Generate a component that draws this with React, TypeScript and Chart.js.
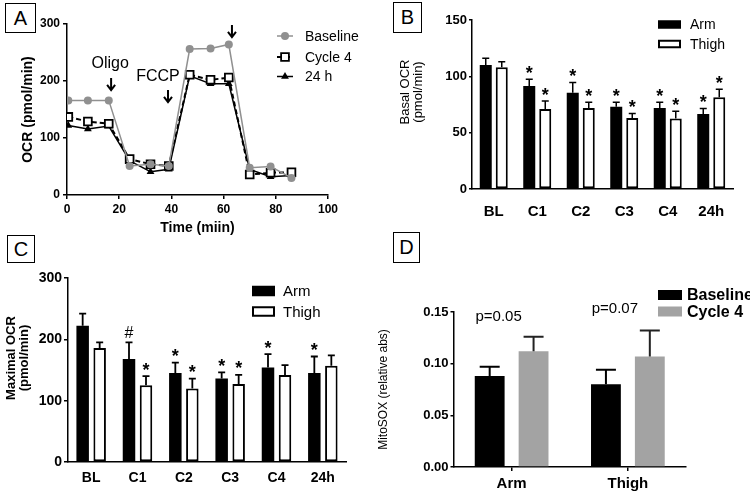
import React, { useEffect, useRef } from 'react';
import { Chart, registerables } from 'chart.js';
Chart.register(...registerables);

const FONT = 'Arial, "Liberation Sans", Helvetica, sans-serif';
Chart.defaults.font.family = FONT;
Chart.defaults.color = '#000';

// ---------- Panel A : OCR trace ----------
const timeMin = [0.5, 8, 16, 24, 32, 39, 47, 55, 62, 70, 78, 86];
const baselineOCR = [166, 166, 166, 51, 54, 51, 256, 257, 264, 48, 50, 30];
const cycle4OCR = [137, 129, 125, 63, 54, 51, 211, 202, 206, 36, 39, 40];
const h24OCR = [122, 116, 121, 60, 41, 45, 209, 195, 195, 45, 32, 34];
const seriesNamesA = ['Baseline', 'Cycle 4', '24 h'];
const injectionNames = ['Oligo', 'FCCP', ''];
const injectionTime = [16.9, 38.7, 63.2];
const injectionTipOCR = [184, 163, 277];
const timeTicks = [0, 20, 40, 60, 80, 100];
const ocrTicks = [0, 100, 200, 300];

// ---------- Panel B : Basal OCR ----------
const visitLabels = ['BL', 'C1', 'C2', 'C3', 'C4', '24h'];
const limbNames = ['Arm', 'Thigh'];
const basalArm = [110, 91.5, 85.5, 73, 72, 66.5];
const basalArmErr = [6, 6, 9, 4, 5, 5];
const basalThigh = [108, 71, 72, 63, 62.5, 81.5];
const basalThighErr = [5, 7, 5, 4, 6.5, 7];
const basalArmMarks = ['', '*', '*', '*', '*', '*'];
const basalThighMarks = ['', '*', '*', '*', '*', '*'];

// ---------- Panel C : Maximal OCR ----------
const maxArm = [222, 168, 145, 136, 154, 145];
const maxArmErr = [20, 27, 17, 10, 22, 27];
const maxThigh = [186, 125, 120, 127, 142, 157];
const maxThighErr = [9, 15, 16, 15, 16, 17];
const maxArmMarks = ['', '#', '*', '*', '*', '*'];
const maxThighMarks = ['', '*', '*', '*', '', ''];

// ---------- Panel D : MitoSOX ----------
const limbLabels = ['Arm', 'Thigh'];
const groupNamesD = ['Baseline', 'Cycle 4'];
const mitoBaseline = [0.088, 0.080];
const mitoBaselineErr = [0.009, 0.014];
const mitoCycle4 = [0.112, 0.107];
const mitoCycle4Err = [0.014, 0.025];
const pValueText = ['p=0.05', 'p=0.07'];
const pValueLevel = [0.1456, 0.1528];

// ---------- plugins ----------
const errorBarPlugin = {
  id: 'errorBars',
  afterDatasetsDraw(chart: any, _a: any, o: any) {
    const { ctx } = chart;
    const yScale = chart.scales.y;
    chart.data.datasets.forEach((ds: any, di: number) => {
      if (!ds.errors) return;
      const meta = chart.getDatasetMeta(di);
      meta.data.forEach((bar: any, i: number) => {
        const yTop = yScale.getPixelForValue(ds.data[i] + ds.errors[i]);
        const half = o.capWidth / 2;
        ctx.save();
        ctx.strokeStyle = ds.errorColor || '#000';
        ctx.lineWidth = o.lineWidth;
        ctx.beginPath();
        ctx.moveTo(bar.x, bar.y);
        ctx.lineTo(bar.x, yTop);
        ctx.moveTo(bar.x - half, yTop);
        ctx.lineTo(bar.x + half, yTop);
        ctx.stroke();
        const m = ds.marks ? ds.marks[i] : '';
        if (m) {
          ctx.fillStyle = '#000';
          ctx.textAlign = 'center';
          ctx.textBaseline = 'alphabetic';
          ctx.font = m === '#' ? `16px ${FONT}` : `bold 18px ${FONT}`;
          ctx.fillText(m, bar.x, yTop - (m === '#' ? 4 : 0.5));
        }
        ctx.restore();
      });
    });
  },
};

const boxLegendPlugin = {
  id: 'boxLegend',
  afterDraw(chart: any, _a: any, o: any) {
    const { ctx } = chart;
    chart.data.datasets.forEach((ds: any, i: number) => {
      const cy = o.rows[i];
      ctx.save();
      ctx.fillStyle = ds.backgroundColor;
      ctx.fillRect(o.x, cy - o.boxH / 2, o.boxW, o.boxH);
      if (ds.borderWidth) {
        const lw = ds.borderWidth;
        ctx.strokeStyle = ds.borderColor;
        ctx.lineWidth = lw;
        ctx.strokeRect(o.x + lw / 2, cy - o.boxH / 2 + lw / 2, o.boxW - lw, o.boxH - lw);
      }
      ctx.fillStyle = '#000';
      ctx.font = o.font;
      ctx.textAlign = 'left';
      ctx.textBaseline = 'middle';
      ctx.fillText(ds.label, o.textX, cy + 1);
      ctx.restore();
    });
  },
};

function drawMarker(ctx: any, style: string, x: number, y: number, r: number) {
  ctx.beginPath();
  if (style === 'rect') {
    const s = r * Math.SQRT1_2;
    ctx.rect(x - s, y - s, 2 * s, 2 * s);
  } else if (style === 'triangle') {
    ctx.moveTo(x, y - r);
    ctx.lineTo(x + Math.sin(Math.PI / 3) * r, y + r / 2);
    ctx.lineTo(x - Math.sin(Math.PI / 3) * r, y + r / 2);
    ctx.closePath();
  } else {
    ctx.arc(x, y, r, 0, Math.PI * 2);
  }
}

const lineLegendPlugin = {
  id: 'lineLegend',
  afterDraw(chart: any, _a: any, o: any) {
    const { ctx } = chart;
    chart.data.datasets.forEach((ds: any, i: number) => {
      const y = o.rows[i];
      ctx.save();
      ctx.strokeStyle = ds.borderColor;
      ctx.lineWidth = ds.borderWidth;
      ctx.setLineDash(ds.borderDash || []);
      ctx.beginPath();
      ctx.moveTo(o.x1, y);
      ctx.lineTo(o.x2, y);
      ctx.stroke();
      ctx.setLineDash([]);
      drawMarker(ctx, ds.pointStyle, (o.x1 + o.x2) / 2, y, ds.pointRadius);
      ctx.fillStyle = ds.pointBackgroundColor;
      ctx.fill();
      if (ds.pointBorderWidth) {
        ctx.lineWidth = ds.pointBorderWidth;
        ctx.strokeStyle = ds.pointBorderColor;
        ctx.stroke();
      }
      ctx.fillStyle = '#000';
      ctx.font = o.font;
      ctx.textAlign = 'left';
      ctx.textBaseline = 'middle';
      ctx.fillText(ds.label, o.textX, y + 1);
      ctx.restore();
    });
  },
};

const injectionPlugin = {
  id: 'injections',
  afterDraw(chart: any, _a: any, o: any) {
    const { ctx } = chart;
    const xs = chart.scales.x;
    const ys = chart.scales.y;
    injectionTime.forEach((t, i) => {
      const px = xs.getPixelForValue(t);
      const tip = ys.getPixelForValue(injectionTipOCR[i]);
      ctx.save();
      ctx.strokeStyle = '#000';
      ctx.lineWidth = 2;
      ctx.beginPath();
      ctx.moveTo(px, tip - o.length);
      ctx.lineTo(px, tip);
      ctx.moveTo(px - o.head, tip - o.head * 1.3);
      ctx.lineTo(px, tip);
      ctx.lineTo(px + o.head, tip - o.head * 1.3);
      ctx.stroke();
      if (injectionNames[i]) {
        ctx.fillStyle = '#000';
        ctx.font = o.font;
        ctx.textAlign = 'center';
        ctx.textBaseline = 'middle';
        ctx.fillText(injectionNames[i], px + o.dx[i], tip + o.dy[i]);
      }
      ctx.restore();
    });
  },
};

const sideTitlePlugin = {
  id: 'sideTitle',
  afterDraw(chart: any, _a: any, o: any) {
    const { ctx } = chart;
    ctx.save();
    ctx.font = o.font;
    ctx.fillStyle = '#000';
    ctx.textAlign = 'center';
    ctx.textBaseline = 'middle';
    o.lines.forEach((line: string, i: number) => {
      ctx.save();
      ctx.translate(o.x + i * o.lineGap, o.y);
      ctx.rotate(-Math.PI / 2);
      ctx.fillText(line, 0, 0);
      ctx.restore();
    });
    ctx.restore();
  },
};

const pValuePlugin = {
  id: 'pValues',
  afterDraw(chart: any, _a: any, o: any) {
    const { ctx } = chart;
    const xs = chart.scales.x;
    const ys = chart.scales.y;
    ctx.save();
    ctx.font = o.font;
    ctx.fillStyle = '#000';
    ctx.textAlign = 'center';
    ctx.textBaseline = 'middle';
    pValueText.forEach((txt, i) => {
      ctx.fillText(txt, xs.getPixelForValue(i) + o.dx, ys.getPixelForValue(pValueLevel[i]));
    });
    ctx.restore();
  },
};

// ---------- shared axis pieces ----------
const axisBorder = { display: true, color: '#000', width: 1.5 };
const tickGrid = (len: number) => ({ drawOnChartArea: false, drawTicks: true, tickLength: len, color: '#000', lineWidth: 1.5 });

const pt = (i: number, arr: number[]) => ({ x: timeMin[i], y: arr[i] });

const makeA = () => ({
  type: 'line',
  data: {
    datasets: [
      {
        label: seriesNamesA[0], data: baselineOCR.map((_, i) => pt(i, baselineOCR)),
        borderColor: '#909090', backgroundColor: '#909090', borderWidth: 1.5,
        pointStyle: 'circle', pointRadius: 4, pointBackgroundColor: '#909090', pointBorderWidth: 0, tension: 0,
      },
      {
        label: seriesNamesA[1], data: cycle4OCR.map((_, i) => pt(i, cycle4OCR)),
        borderColor: '#000', backgroundColor: '#fff', borderWidth: 2, borderDash: [5, 3],
        pointStyle: 'rect', pointRadius: 5.5, pointBackgroundColor: '#fff', pointBorderColor: '#000', pointBorderWidth: 1.8, tension: 0,
      },
      {
        label: seriesNamesA[2], data: h24OCR.map((_, i) => pt(i, h24OCR)),
        borderColor: '#000', backgroundColor: '#000', borderWidth: 1.5,
        pointStyle: 'triangle', pointRadius: 4.5, pointBackgroundColor: '#000', pointBorderColor: '#000', pointBorderWidth: 0, tension: 0,
      },
    ],
  },
  options: {
    responsive: false, animation: false, devicePixelRatio: 1,
    layout: { padding: { left: 0, top: 24, right: 52, bottom: 0 } },
    plugins: {
      legend: { display: false }, tooltip: { enabled: false },
      lineLegend: { x1: 277, x2: 293, textX: 305, rows: [36, 57, 76.5], font: `14px ${FONT}` },
      injections: { length: 12, head: 4, font: `16px ${FONT}`, dx: [-1, -10, 0], dy: [-27, -25, 0] },
    },
    scales: {
      x: {
        type: 'linear', min: timeTicks[0], max: timeTicks[timeTicks.length - 1],
        ticks: { stepSize: 20, font: { size: 12, weight: 'bold' }, color: '#000', padding: 3 },
        grid: tickGrid(4), border: axisBorder,
        title: { display: true, text: 'Time (miin)', font: { size: 14, weight: 'bold' }, color: '#000', padding: { top: 0, bottom: 8.6 } },
        afterFit: (s: any) => { s.height = 50; },
      },
      y: {
        min: ocrTicks[0], max: ocrTicks[ocrTicks.length - 1],
        ticks: { stepSize: 100, font: { size: 12, weight: 'bold' }, color: '#000', padding: 3 },
        grid: tickGrid(4), border: axisBorder,
        title: { display: true, text: 'OCR (pmol/min)', font: { size: 14, weight: 'bold' }, color: '#000', padding: { top: 19.6, bottom: 0 } },
        afterFit: (s: any) => { s.width = 67; },
      },
    },
  },
  plugins: [lineLegendPlugin, injectionPlugin],
});

const makeLimbBars = (
  arm: number[], armErr: number[], armMarks: string[],
  thigh: number[], thighErr: number[], thighMarks: string[],
  cp: number, bp: number,
) => [
  {
    label: limbNames[0], data: arm, errors: armErr, marks: armMarks,
    backgroundColor: '#000', borderWidth: 0, categoryPercentage: cp, barPercentage: bp,
  },
  {
    label: limbNames[1], data: thigh, errors: thighErr, marks: thighMarks,
    backgroundColor: '#fff', borderColor: '#000', borderWidth: 2, borderSkipped: false,
    categoryPercentage: cp, barPercentage: bp,
  },
];

const makeB = () => ({
  type: 'bar',
  data: {
    labels: visitLabels,
    datasets: makeLimbBars(basalArm, basalArmErr, basalArmMarks, basalThigh, basalThighErr, basalThighMarks, 0.736, 0.75),
  },
  options: {
    responsive: false, animation: false, devicePixelRatio: 1,
    layout: { padding: { left: 0, top: 20, right: 17, bottom: 0 } },
    plugins: {
      legend: { display: false }, tooltip: { enabled: false },
      errorBars: { capWidth: 7, lineWidth: 1.5 },
      boxLegend: { x: 278, boxW: 23, boxH: 8.5, rows: [24.5, 44], textX: 310, font: `14px ${FONT}` },
      sideTitle: { lines: ['Basal OCR', '(pmol/min)'], x: 25, y: 92, lineGap: 13.5, font: `13px ${FONT}` },
    },
    scales: {
      x: {
        grid: { display: false, drawTicks: false }, border: axisBorder,
        ticks: { font: { size: 15, weight: 'bold' }, color: '#000', padding: 14 },
        afterFit: (s: any) => { s.height = 51; },
      },
      y: {
        min: 0, max: 150,
        ticks: { stepSize: 50, font: { size: 13, weight: 'bold' }, color: '#000', padding: 2 },
        grid: tickGrid(3), border: axisBorder,
        afterFit: (s: any) => { s.width = 92; },
      },
    },
  },
  plugins: [errorBarPlugin, boxLegendPlugin, sideTitlePlugin],
});

const makeC = () => ({
  type: 'bar',
  data: {
    labels: visitLabels,
    datasets: makeLimbBars(maxArm, maxArmErr, maxArmMarks, maxThigh, maxThighErr, maxThighMarks, 0.734, 0.735),
  },
  options: {
    responsive: false, animation: false, devicePixelRatio: 1,
    layout: { padding: { left: 0, top: 33, right: 34, bottom: 0 } },
    plugins: {
      legend: { display: false }, tooltip: { enabled: false },
      errorBars: { capWidth: 7, lineWidth: 1.8 },
      boxLegend: { x: 252, boxW: 23, boxH: 10.5, rows: [46, 66.5], textX: 283, font: `15px ${FONT}` },
      sideTitle: { lines: ['Maximal OCR', '(pmol/min)'], x: 11.5, y: 113, lineGap: 13, font: `bold 13px ${FONT}` },
    },
    scales: {
      x: {
        grid: { display: false, drawTicks: false }, border: axisBorder,
        ticks: { font: { size: 14, weight: 'bold' }, color: '#000', padding: 7.6 },
        afterFit: (s: any) => { s.height = 32; },
      },
      y: {
        min: 0, max: 300,
        ticks: { stepSize: 100, font: { size: 14, weight: 'bold' }, color: '#000', padding: 2 },
        grid: tickGrid(4), border: axisBorder,
        afterFit: (s: any) => { s.width = 68; },
      },
    },
  },
  plugins: [errorBarPlugin, boxLegendPlugin, sideTitlePlugin],
});

const makeD = () => ({
  type: 'bar',
  data: {
    labels: limbLabels,
    datasets: [
      {
        label: groupNamesD[0], data: mitoBaseline, errors: mitoBaselineErr, errorColor: '#000',
        backgroundColor: '#000', borderWidth: 0, categoryPercentage: 0.755, barPercentage: 0.68,
      },
      {
        label: groupNamesD[1], data: mitoCycle4, errors: mitoCycle4Err, errorColor: '#222',
        backgroundColor: '#a3a3a3', borderWidth: 0, categoryPercentage: 0.755, barPercentage: 0.68,
      },
    ],
  },
  options: {
    responsive: false, animation: false, devicePixelRatio: 1,
    layout: { padding: { left: 0, top: 67, right: 64, bottom: 0 } },
    plugins: {
      legend: { display: false }, tooltip: { enabled: false },
      errorBars: { capWidth: 20, lineWidth: 2 },
      boxLegend: { x: 288, boxW: 24, boxH: 10, rows: [50, 66.5], textX: 317, font: `bold 16px ${FONT}` },
      pValues: { dx: -13, font: `15px ${FONT}` },
    },
    scales: {
      x: {
        grid: { display: true, drawOnChartArea: false, drawTicks: true, tickLength: 4, offset: false, color: '#000', lineWidth: 1.5 },
        border: axisBorder,
        ticks: { font: { size: 15, weight: 'bold' }, color: '#000', padding: 4 },
        afterFit: (s: any) => { s.height = 27; },
      },
      y: {
        min: 0, max: 0.15,
        ticks: { stepSize: 0.05, font: { size: 13, weight: 'bold' }, color: '#000', padding: 2, callback: (v: any) => Number(v).toFixed(2) },
        grid: tickGrid(3), border: axisBorder,
        title: { display: true, text: 'MitoSOX (relative abs)', font: { size: 12 }, color: '#000', padding: { top: 6.8, bottom: 0 } },
        afterFit: (s: any) => { s.width = 83.5; },
      },
    },
  },
  plugins: [errorBarPlugin, boxLegendPlugin, pValuePlugin],
});

function ChartBox({ left, top, width, height, make }: any) {
  const ref = useRef<HTMLCanvasElement>(null);
  useEffect(() => {
    const chart = new Chart(ref.current as HTMLCanvasElement, make());
    return () => chart.destroy();
  }, []);
  return (
    <canvas
      ref={ref}
      width={width}
      height={height}
      style={{ position: 'absolute', left, top, width, height, display: 'block' }}
    />
  );
}

function Tag({ letter, left, top, w, h }: any) {
  return (
    <div
      style={{
        position: 'absolute', left, top, width: w, height: h, boxSizing: 'border-box',
        border: '1.5px solid #000', font: `20px ${FONT}`, display: 'flex',
        alignItems: 'center', justifyContent: 'center', background: '#fff', color: '#000',
      }}
    >
      {letter}
    </div>
  );
}

export default function App() {
  return (
    <div style={{ position: 'absolute', left: 0, top: 0, width: 750, height: 494, background: '#fff', overflow: 'hidden' }}>
      <ChartBox left={0} top={0} width={380} height={245} make={makeA} />
      <ChartBox left={380} top={0} width={370} height={240} make={makeB} />
      <ChartBox left={0} top={245} width={380} height={249} make={makeC} />
      <ChartBox left={370} top={245} width={380} height={249} make={makeD} />
      <Tag letter="A" left={5} top={3} w={31} h={30} />
      <Tag letter="B" left={393} top={2} w={29} h={31} />
      <Tag letter="C" left={7} top={235} w={28} h={28} />
      <Tag letter="D" left={393} top={232} w={27} h={31} />
    </div>
  );
}
